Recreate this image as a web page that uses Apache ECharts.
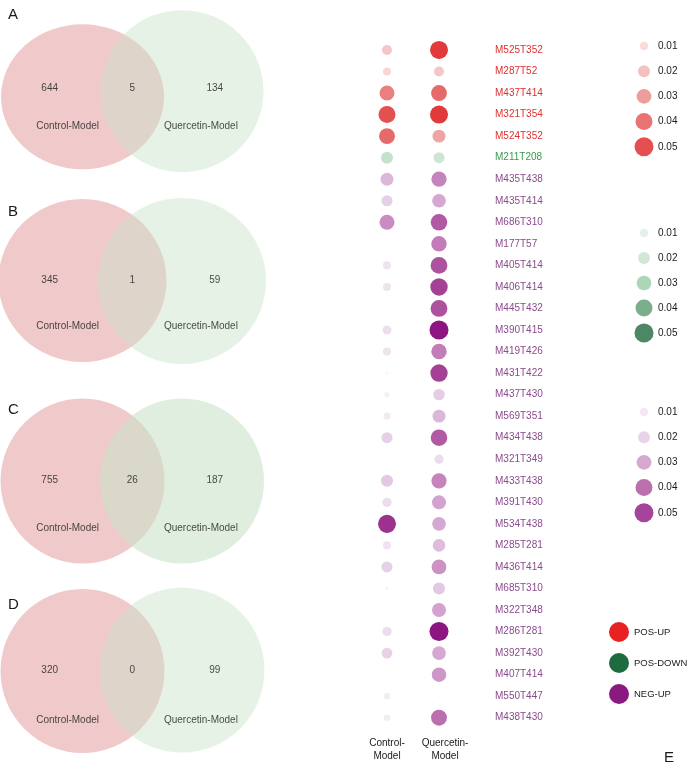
<!DOCTYPE html>
<html>
<head>
<meta charset="utf-8">
<script src="https://cdn.jsdelivr.net/npm/echarts@6/dist/echarts.min.js"></script>
<style>html,body{margin:0;padding:0;background:#fff;}#c{width:690px;height:763px;}</style>
</head>
<body>
<div id="c"></div>
<script>
// ---------------- DATA ----------------
const vennPanels = ['A', 'B', 'C', 'D'];
const vennSetNames = ['Control-Model', 'Quercetin-Model'];
const vennControlOnly = [644, 345, 755, 320];
const vennShared = [5, 1, 26, 0];
const vennQuercetinOnly = [134, 59, 187, 99];

const sampleLabels = ['Control-Model', 'Quercetin-Model'];
const metabolites = [
  'M525T352', 'M287T52', 'M437T414', 'M321T354', 'M524T352', 'M211T208',
  'M435T438', 'M435T414', 'M686T310', 'M177T57', 'M405T414', 'M406T414',
  'M445T432', 'M390T415', 'M419T426', 'M431T422', 'M437T430', 'M569T351',
  'M434T438', 'M321T349', 'M433T438', 'M391T430', 'M534T438', 'M285T281',
  'M436T414', 'M685T310', 'M322T348', 'M286T281', 'M392T430', 'M407T414',
  'M550T447', 'M438T430'
];
const metaboliteGroups = [
  'POS-UP', 'POS-UP', 'POS-UP', 'POS-UP', 'POS-UP', 'POS-DOWN',
  'NEG-UP', 'NEG-UP', 'NEG-UP', 'NEG-UP', 'NEG-UP', 'NEG-UP',
  'NEG-UP', 'NEG-UP', 'NEG-UP', 'NEG-UP', 'NEG-UP', 'NEG-UP',
  'NEG-UP', 'NEG-UP', 'NEG-UP', 'NEG-UP', 'NEG-UP', 'NEG-UP',
  'NEG-UP', 'NEG-UP', 'NEG-UP', 'NEG-UP', 'NEG-UP', 'NEG-UP',
  'NEG-UP', 'NEG-UP'
];
const controlValues = [
  0.014, 0.009, 0.031, 0.040, 0.035, 0.020,
  0.023, 0.017, 0.031, 0, 0.009, 0.009,
  0, 0.011, 0.009, 0.0015, 0.004, 0.007,
  0.017, 0, 0.020, 0.012, 0.045, 0.009,
  0.017, 0.002, 0, 0.012, 0.016, 0.0005,
  0.006, 0.006
];
const quercetinValues = [
  0.045, 0.014, 0.035, 0.045, 0.023, 0.017,
  0.032, 0.026, 0.038, 0.033, 0.039, 0.042,
  0.039, 0.050, 0.033, 0.042, 0.018, 0.023,
  0.038, 0.012, 0.032, 0.027, 0.026, 0.022,
  0.030, 0.020, 0.027, 0.050, 0.026, 0.029,
  0.001, 0.035
];
const groupNames = ['POS-UP', 'POS-DOWN', 'NEG-UP'];
const legendValues = [0.01, 0.02, 0.03, 0.04, 0.05];
const legendTickLabels = ['0.01', '0.02', '0.03', '0.04', '0.05'];

// ---------------- STYLE / LAYOUT ----------------
const FONT = 'Liberation Sans';
const GROUP_STYLE = {
  'POS-UP':   { key: '#e82222', label: '#e03030', ramp: ['#fdf3f3', '#f6d3d3', '#f1b2b2', '#ea8585', '#e35050', '#e02323'] },
  'POS-DOWN': { key: '#1f6b40', label: '#3a9a4c', ramp: ['#f5faf6', '#dfeee2', '#c5e2cc', '#99cca6', '#5a9a70', '#1f6a3e'] },
  'NEG-UP':   { key: '#8a1a80', label: '#8a4a8c', ramp: ['#fdf9fd', '#efe1ef', '#e2c8e2', '#cc92c5', '#aa4c9a', '#8e1581'] }
};
const LEGEND_BLOCKS = { 'POS-UP': { top: 33.4, height: 126 }, 'POS-DOWN': { top: 220.5, height: 125 }, 'NEG-UP': { top: 399.4, height: 126 } };
const VENN_LAYOUT = [
  { cy: 88,  l: [163, 145, 3],  r: [163, 162, -3], countDy: -6, nameDy: 34, greenAlpha: 0.55 },
  { cy: 280.5, l: [168, 163, 0], r: [168, 166, 0.5], countDy: 0, nameDy: 45.5, greenAlpha: 0.55 },
  { cy: 481, l: [164, 165, 0],  r: [164, 165, 0],  countDy: -1, nameDy: 47, greenAlpha: 0.72 },
  { cy: 679, l: [164, 164, 0],  r: [165, 165, -1], countDy: -1, nameDy: 54, greenAlpha: 0.55 }
];
const VENN_X = { controlOnly: 0.67, shared: 1.5, quercetinOnly: 2.33, controlName: 0.85, quercetinName: 2.19 };
const SIZE_K = 85; // diameter = K * sqrt(value)  (area proportional to value)
const sizeFn = v => (v[2] > 0 ? SIZE_K * Math.sqrt(v[2]) : 0);

// ---------------- BUILD OPTION ----------------
const grid = [], xAxis = [], yAxis = [], series = [], visualMap = [], title = [];

// Venn panels
vennPanels.forEach((p, i) => {
  const L = VENN_LAYOUT[i];
  grid.push({ left: 32.75, width: 199, top: L.cy - 100, height: 200 });
  xAxis.push({ type: 'value', gridIndex: i, min: 0.5, max: 2.5, show: false });
  yAxis.push({ type: 'value', gridIndex: i, min: -100, max: 100, inverse: true, show: false });
  series.push({
    type: 'scatter', xAxisIndex: i, yAxisIndex: i, silent: true, z: 1,
    symbol: 'circle', symbolSize: L.l.slice(0, 2),
    itemStyle: { color: 'rgb(236,189,189)' },
    data: [[1, L.l[2]]]
  });
  series.push({
    type: 'scatter', xAxisIndex: i, yAxisIndex: i, silent: true, z: 2,
    symbol: 'circle', symbolSize: L.r.slice(0, 2),
    itemStyle: { color: 'rgba(200,225,200,' + L.greenAlpha + ')' },
    data: [[2, L.r[2]]]
  });
  series.push({
    type: 'scatter', xAxisIndex: i, yAxisIndex: i, silent: true, z: 3,
    symbolSize: 1, itemStyle: { color: 'transparent' },
    label: { show: true, position: 'inside', formatter: '{b}', color: '#1a1a1a', fontSize: 10, fontFamily: FONT },
    data: [
      { name: String(vennControlOnly[i]), value: [VENN_X.controlOnly, L.countDy] },
      { name: String(vennShared[i]), value: [VENN_X.shared, L.countDy] },
      { name: String(vennQuercetinOnly[i]), value: [VENN_X.quercetinOnly, L.countDy] },
      { name: vennSetNames[0], value: [VENN_X.controlName, L.nameDy] },
      { name: vennSetNames[1], value: [VENN_X.quercetinName, L.nameDy] }
    ]
  });
});

const letterTops = [2, 199, 397, 592];
const letterStyle = { fontSize: 15, fontWeight: 'normal', color: '#1a1a1a', fontFamily: FONT };
vennPanels.forEach((p, i) => title.push({ text: p, left: 3, top: letterTops[i], textStyle: letterStyle }));
title.push({ text: 'E', left: 659, top: 745, textStyle: letterStyle });

// Dot plot grid
const DOT = grid.length;
grid.push({ left: 361, width: 104, top: 39.2, height: 689.3 });
xAxis.push({
  type: 'category', gridIndex: DOT, position: 'bottom',
  data: [{ value: sampleLabels[0] }, { value: sampleLabels[1], textStyle: { padding: [0, 0, 0, 12] } }],
  axisLine: { show: false }, axisTick: { show: false }, splitLine: { show: false },
  axisLabel: { interval: 0, margin: 8, color: '#1a1a1a', fontSize: 10, lineHeight: 13, fontFamily: FONT, formatter: v => v.replace('-', '-\n') }
});
yAxis.push({
  type: 'category', gridIndex: DOT, inverse: true, position: 'right',
  data: metabolites.map((m, k) => ({ value: m, textStyle: { color: GROUP_STYLE[metaboliteGroups[k]].label } })),
  axisLine: { show: false }, axisTick: { show: false }, splitLine: { show: false },
  axisLabel: { interval: 0, margin: 30, fontSize: 10, fontFamily: FONT, align: 'left' }
});

groupNames.forEach(g => {
  const data = [];
  metabolites.forEach((m, k) => {
    if (metaboliteGroups[k] !== g) return;
    data.push([sampleLabels[0], m, controlValues[k]]);
    data.push([sampleLabels[1], m, quercetinValues[k]]);
  });
  const idx = series.length;
  series.push({
    name: g, type: 'scatter', xAxisIndex: DOT, yAxisIndex: DOT, z: 5,
    symbol: 'circle', symbolSize: sizeFn,
    itemStyle: { color: GROUP_STYLE[g].key, opacity: 1 },
    data
  });
  // legend size block for this group
  const gi = grid.length;
  grid.push({ left: 634, width: 20, top: LEGEND_BLOCKS[g].top, height: LEGEND_BLOCKS[g].height });
  xAxis.push({ type: 'category', gridIndex: gi, data: [''], show: false });
  yAxis.push({
    type: 'category', gridIndex: gi, inverse: true, position: 'right', data: legendTickLabels,
    axisLine: { show: false }, axisTick: { show: false }, splitLine: { show: false },
    axisLabel: { interval: 0, margin: 4, color: '#1a1a1a', fontSize: 10, fontFamily: FONT, align: 'left' }
  });
  const idx2 = series.length;
  series.push({
    type: 'scatter', xAxisIndex: gi, yAxisIndex: gi, silent: true, z: 5,
    symbol: 'circle', symbolSize: sizeFn,
    data: legendValues.map((v, k) => ['', legendTickLabels[k], v])
  });
  visualMap.push({
    type: 'continuous', show: false, seriesIndex: [idx, idx2], dimension: 2,
    min: 0, max: 0.05, inRange: { color: GROUP_STYLE[g].ramp }
  });
});

const option = {
  animation: false,
  backgroundColor: '#fff',
  textStyle: { fontFamily: FONT },
  title, grid, xAxis, yAxis, series, visualMap,
  legend: {
    data: groupNames.map(g => ({ name: g, itemStyle: { color: GROUP_STYLE[g].key } })),
    orient: 'vertical', left: 609, top: 622, itemWidth: 20, itemHeight: 20, itemGap: 11,
    icon: 'circle', selectedMode: false, padding: 0,
    textStyle: { fontSize: 9.5, color: '#1a1a1a', fontFamily: FONT }
  }
};

const chart = echarts.init(document.getElementById('c'), null, { renderer: 'canvas' });
chart.setOption(option);
</script>
</body>
</html>
